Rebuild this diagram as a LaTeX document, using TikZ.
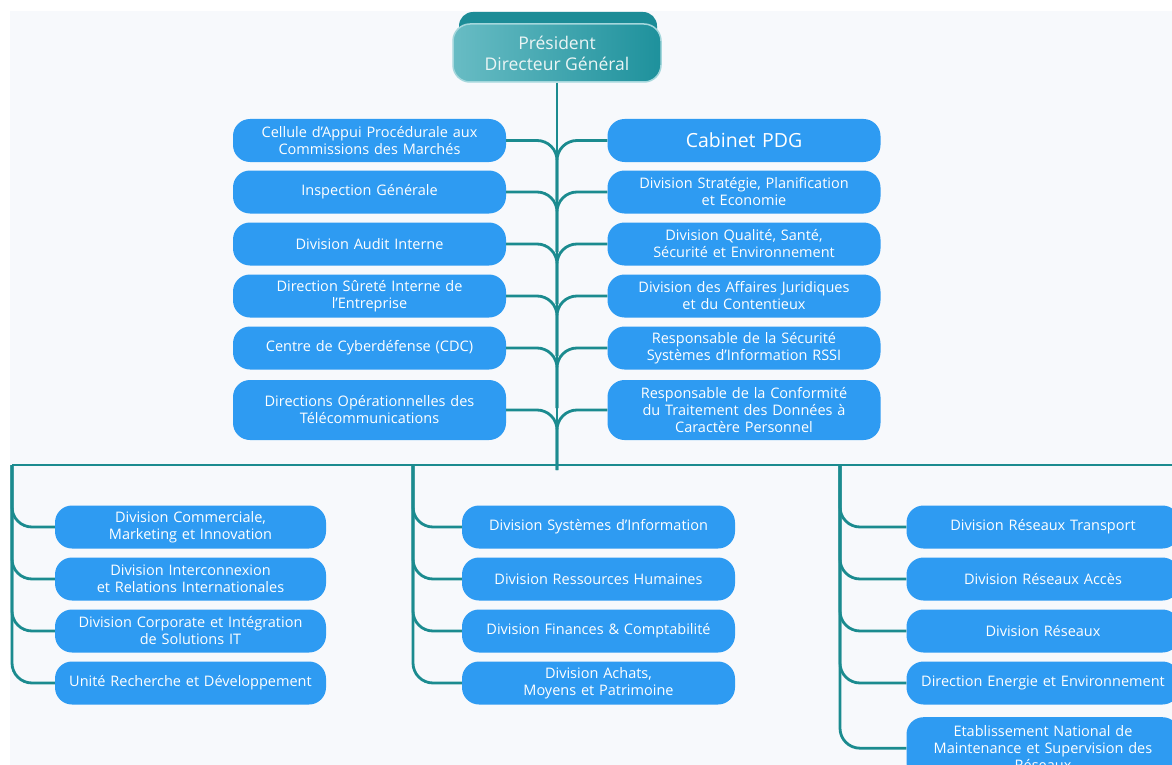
\documentclass[tikz,border=0pt]{standalone}
\usepackage{fontspec}
\setmainfont{Open Sans}
\definecolor{boxblue}{RGB}{46,155,242}
\definecolor{linkteal}{RGB}{27,139,143}
\definecolor{pdgdark}{RGB}{28,140,151}
\definecolor{pdglight}{RGB}{104,188,196}
\definecolor{pdgmid}{RGB}{30,145,156}
\definecolor{canvas}{RGB}{247,249,252}
\tikzset{
  unit/.style={fill=boxblue, text=white, rounded corners=17pt, minimum width=273pt,
    minimum height=43pt, text width=268pt, align=center, inner sep=0pt,
    font=\fontsize{14.5}{17}\selectfont},
  tall/.style={minimum height=60pt},
  link/.style={draw=linkteal, line width=2.8pt},
  branch/.style={link, rounded corners=20pt}
}
\begin{document}
\begin{tikzpicture}[x=1pt,y=-1pt]
\useasboundingbox (0,0) rectangle (1172,765);
\clip (0,0) rectangle (1172,765);
\fill[canvas] (10,11) rectangle (1172,765);

% head of the organisation
\fill[pdgdark, rounded corners=14pt] (459,12) rectangle (657,60);
\node[draw=pdglight!60!white, line width=1.5pt, left color=pdglight, right color=pdgmid,
  rounded corners=17pt, minimum width=208pt, minimum height=58pt, inner sep=0pt,
  text=white!92!teal, align=center, font=\fontsize{17.5}{21}\selectfont]
  (pdg) at (557,53) {Président\\Directeur Général};

% units attached to the head
\node[unit] (l1) at (369.5,140.5) {Cellule d’Appui Procédurale aux\\Commissions des Marchés};
\node[unit] (l2) at (369.5,192) {Inspection Générale};
\node[unit] (l3) at (369.5,244) {Division Audit Interne};
\node[unit] (l4) at (369.5,296) {Direction Sûreté Interne  de\\l’Entreprise};
\node[unit] (l5) at (369.5,348) {Centre de Cyberdéfense (CDC)};
\node[unit,tall] (l6) at (369.5,410) {Directions Opérationnelles des\\Télécommunications};

\node[unit, font=\fontsize{19.5}{22}\selectfont] (r1) at (744,140.5) {Cabinet PDG};
\node[unit] (r2) at (744,192) {Division Stratégie, Planification\\et Economie};
\node[unit] (r3) at (744,244) {Division Qualité, Santé,\\Sécurité et Environnement};
\node[unit] (r4) at (744,296) {Division des Affaires Juridiques\\et du Contentieux};
\node[unit] (r5) at (744,348) {Responsable de la Sécurité\\Systèmes d’Information RSSI};
\node[unit,tall] (r6) at (744,410) {Responsable de la Conformité\\du Traitement des Données à\\Caractère Personnel};

% divisions, first group
\node[unit, minimum width=271pt] (a1) at (190.5,527) {Division Commerciale,\\Marketing et Innovation};
\node[unit, minimum width=271pt] (a2) at (190.5,579) {Division Interconnexion\\et Relations  Internationales};
\node[unit, minimum width=271pt] (a3) at (190.5,631) {Division Corporate et Intégration\\de Solutions IT};
\node[unit, minimum width=271pt] (a4) at (190.5,683) {Unité Recherche et Développement};

% divisions, second group
\node[unit] (b1) at (598.5,527) {Division Systèmes d’Information};
\node[unit] (b2) at (598.5,579) {Division Ressources Humaines};
\node[unit] (b3) at (598.5,631) {Division Finances  \& Comptabilité};
\node[unit] (b4) at (598.5,683) {Division Achats,\\Moyens et Patrimoine};

% divisions, third group
\node[unit] (c1) at (1043,527) {Division Réseaux Transport};
\node[unit] (c2) at (1043,579) {Division Réseaux Accès};
\node[unit] (c3) at (1043,631) {Division Réseaux};
\node[unit] (c4) at (1043,683) {Direction Energie et Environnement};
\node[unit, anchor=north, minimum height=62pt, inner ysep=4pt] (c5) at (1043,717)
  {Etablissement National de\\Maintenance et Supervision des\\Réseaux};

% trunk and bus
\coordinate (hub) at (557,465);
\coordinate (busL) at (12,465);
\coordinate (busM) at (413,465);
\coordinate (busC) at (840,465);
\coordinate (busR) at (1172,465);
\draw[link] (pdg.south) -- (hub);
\draw[link] (busL) -- (busR);

% branches from the trunk
\foreach \n in {l1,l2,l3,l4,l5,l6,r1,r2,r3,r4,r5,r6}
  \draw[branch] ([yshift=-60pt]\n.west -| pdg.south) |- (\n);
% branches from the bus
\foreach \n in {a1,a2,a3,a4} \draw[branch] (busL) |- (\n.west);
\foreach \n in {b1,b2,b3,b4} \draw[branch] (busM) |- (\n.west);
\foreach \n in {c1,c2,c3,c4,c5} \draw[branch] (busC) |- (\n.west);
\end{tikzpicture}
\end{document}
